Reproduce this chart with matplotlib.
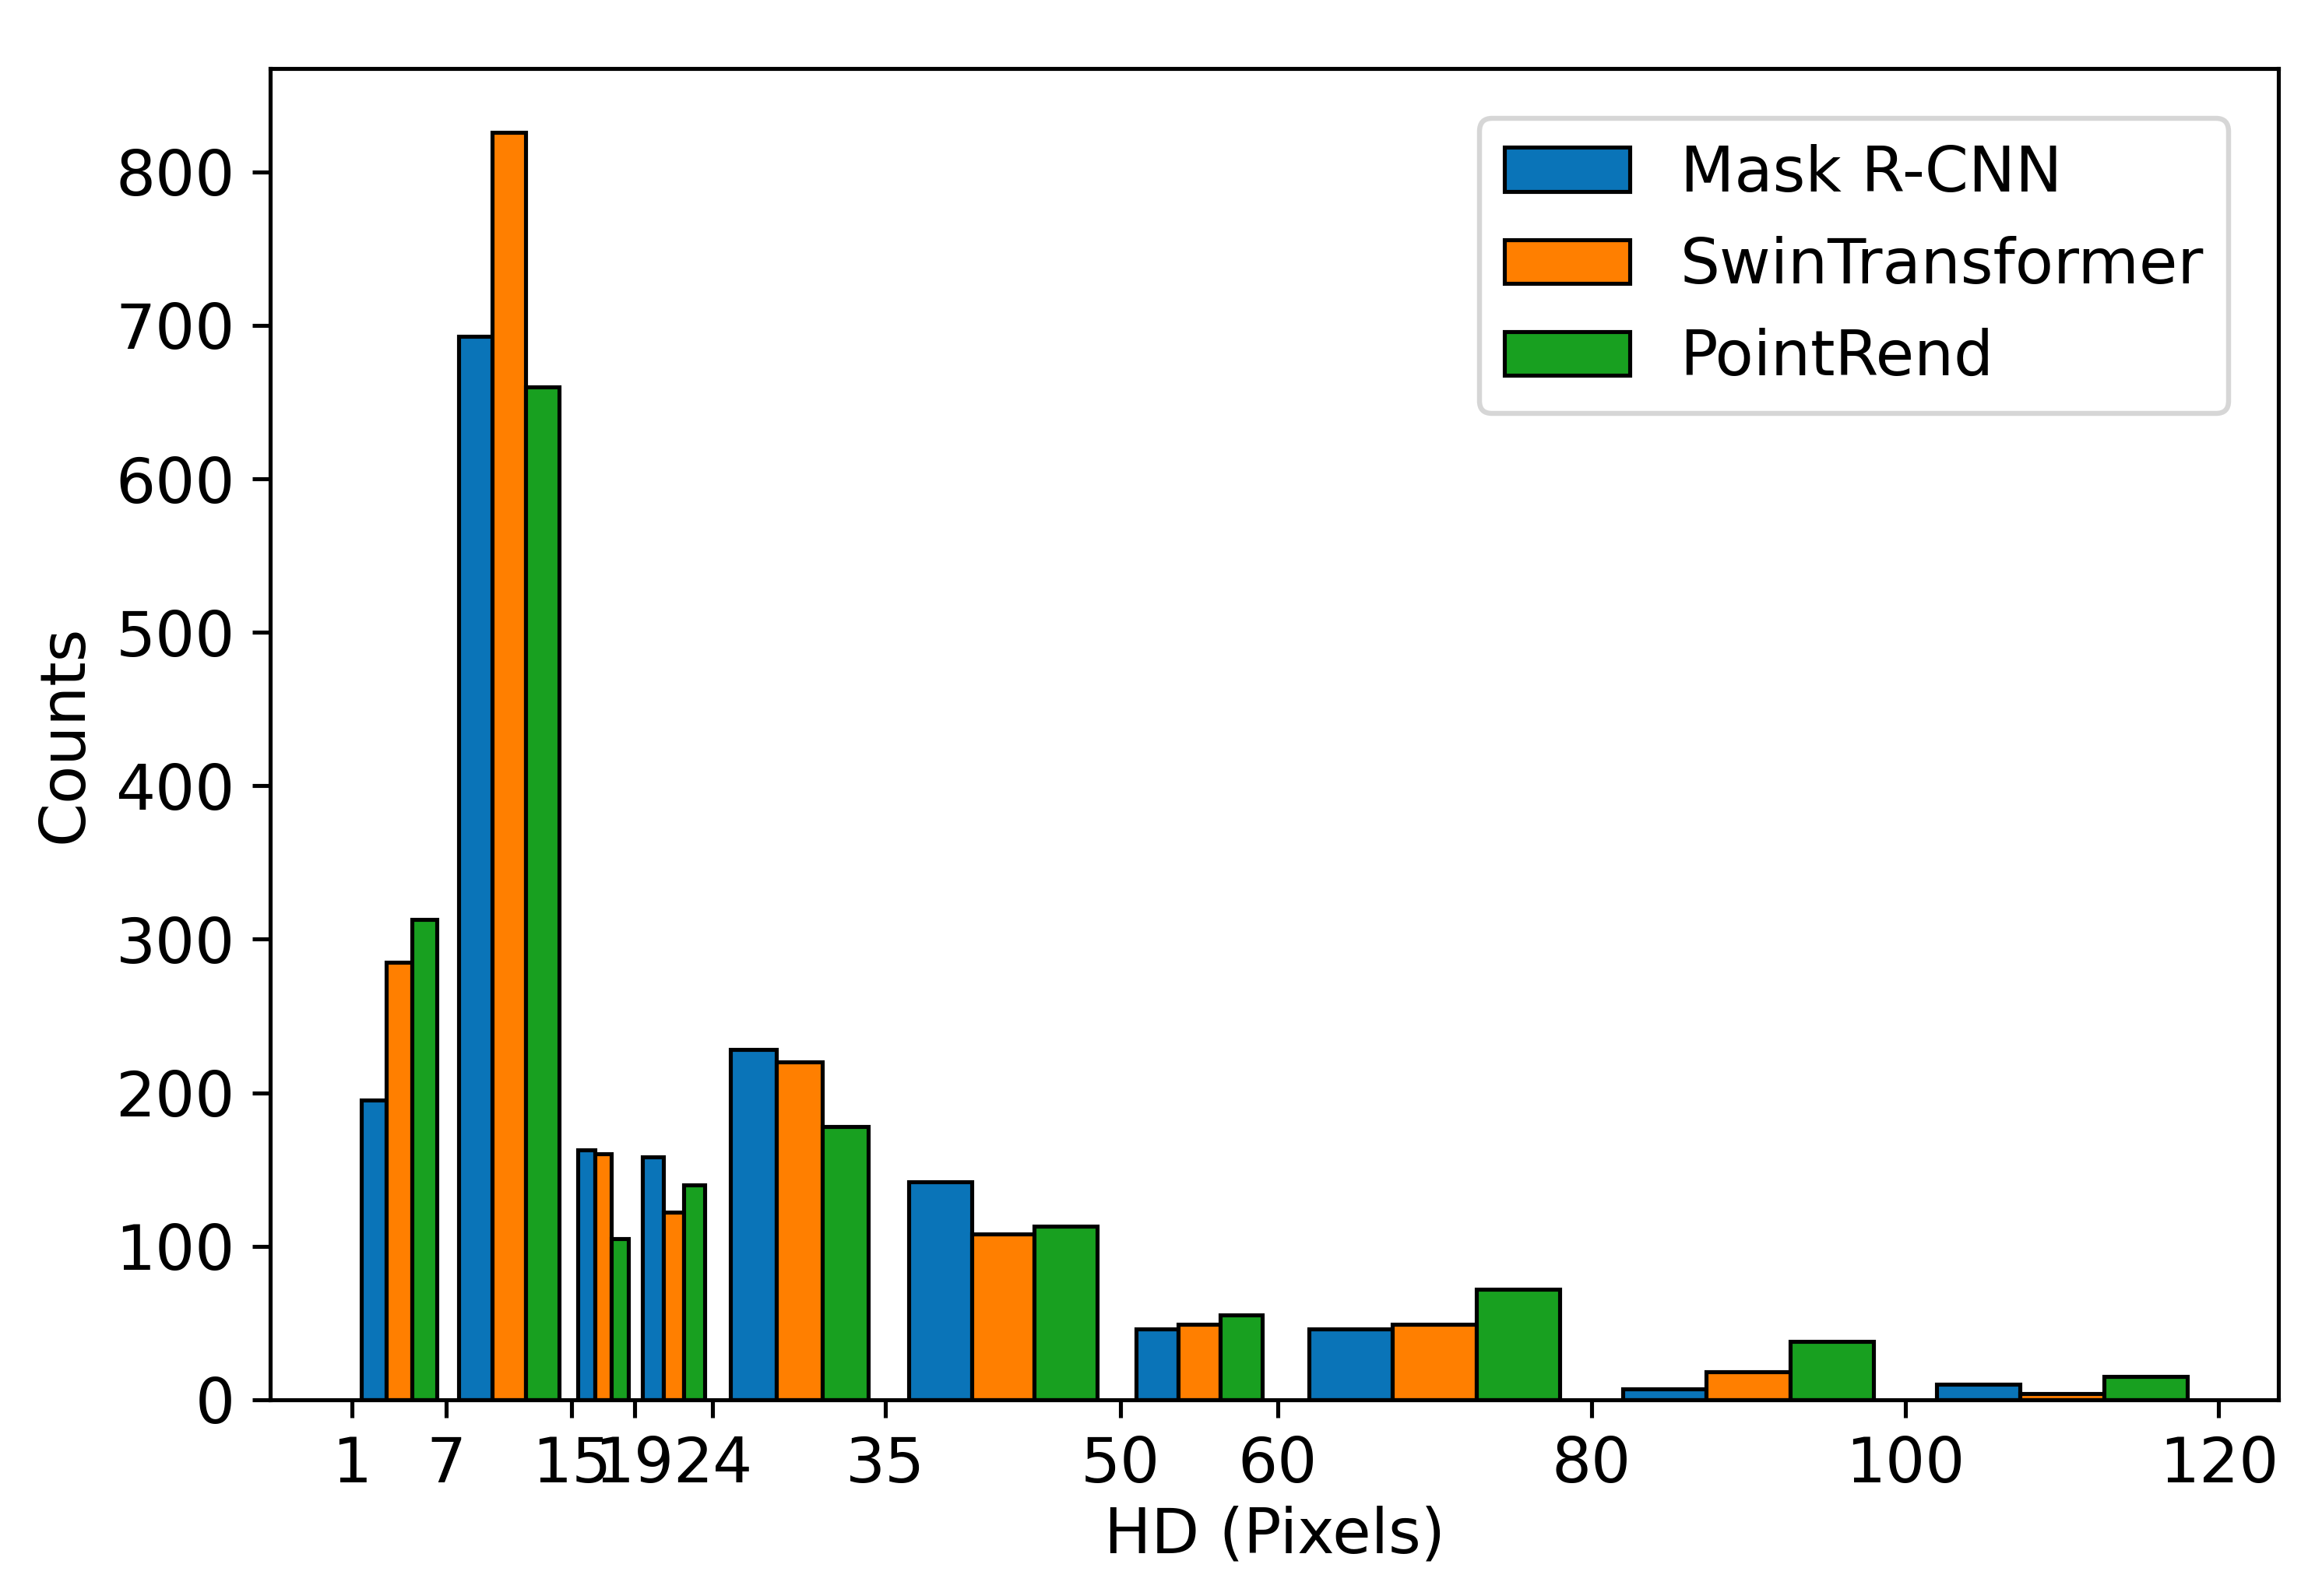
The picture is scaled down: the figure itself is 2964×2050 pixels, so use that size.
import matplotlib.pyplot as plt

bins = [1, 7, 15, 19, 24, 35, 50, 60, 80, 100, 120]
labels = ["Mask R-CNN", "SwinTransformer", "PointRend"]
mask_rcnn = [195, 693, 163, 158, 228, 142, 46, 46, 7, 10]
swin = [285, 826, 160, 122, 220, 108, 49, 49, 18, 4]
pointrend = [313, 660, 105, 140, 178, 113, 55, 72, 38, 15]
colors = ["#0a74b8", "#ff7f00", "#18a020"]

centers = [(a + b) / 2 for a, b in zip(bins[:-1], bins[1:])]

plt.rcParams["font.size"] = 12.5
fig = plt.figure(figsize=(6.4, 2050 / 463.28), dpi=463.28)
ax = fig.add_axes([0.117, 0.123, 0.870, 0.834])
ax.hist([centers] * 3, bins=bins, weights=[mask_rcnn, swin, pointrend],
        color=colors, edgecolor="black", linewidth=0.8, label=labels)
ax.set_xticks(bins)
ax.set_xticklabels([str(b) for b in bins])
ax.set_xlabel("HD (Pixels)", labelpad=2)
ax.set_ylabel("Counts")
ax.legend(loc="upper right", borderaxespad=0.8)
fig.savefig("out.png", dpi=463.28)
